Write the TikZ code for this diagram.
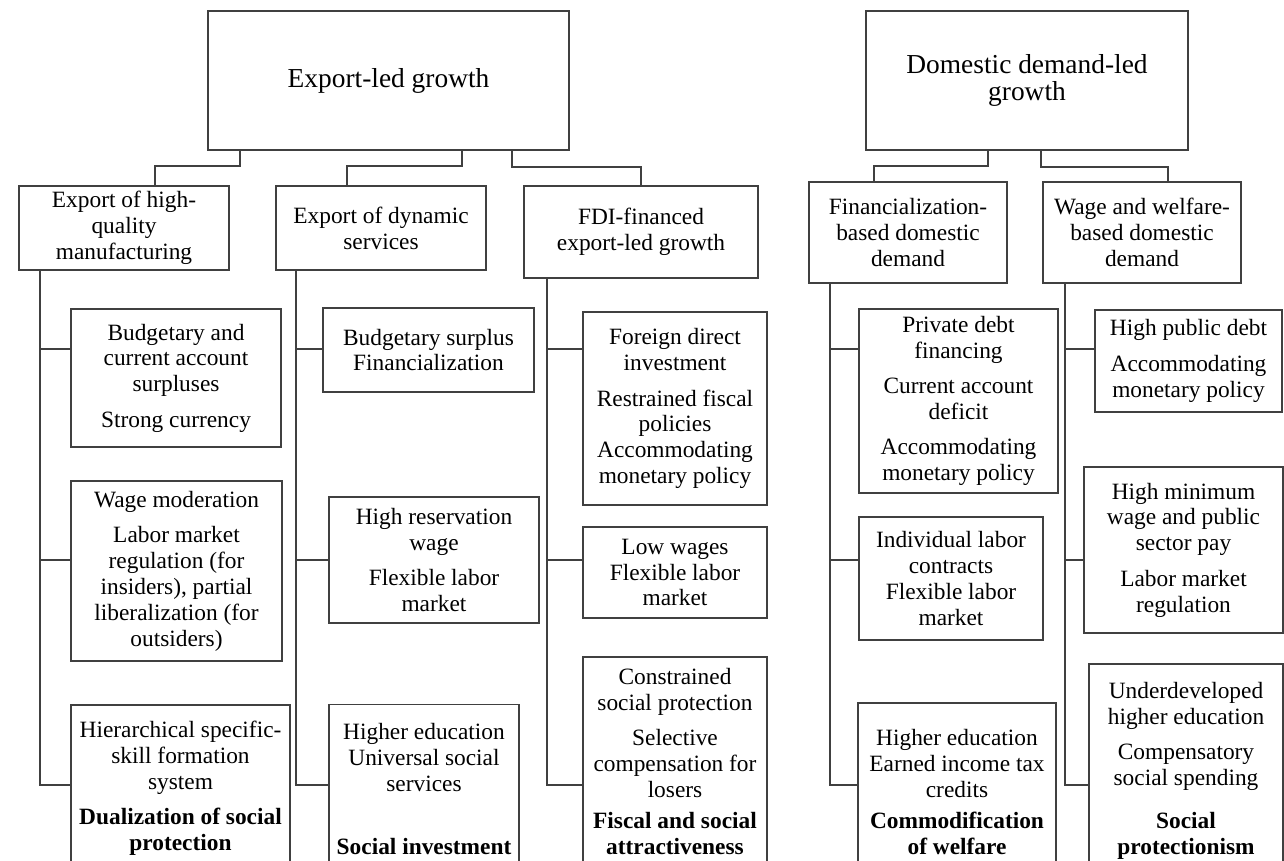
\documentclass[tikz,border=0pt]{standalone}
\usepackage{fontspec}
\setmainfont{Liberation Serif}

\begin{document}
\begin{tikzpicture}[x=0.02cm, y=-0.02cm,
  box/.style={draw=black!75, line width=0.8pt, align=center, inner sep=2pt,
    font=\fontsize{13.3}{14.7}\selectfont},
  headbox/.style={box, font=\fontsize{15.6}{15.6}\selectfont},
  link/.style={draw=black!75, line width=0.8pt}]

\useasboundingbox (0,0) rectangle (1284,861);
\clip (0,0) rectangle (1284,861);

% growth models
\node[headbox, minimum width=7.22cm, minimum height=2.78cm] (EL) at (388.5,80.5) {Export-led growth};
\node[headbox, minimum width=6.44cm, minimum height=2.78cm] (DL) at (1027,80.5) {Domestic demand-led\\growth};

% strategies
\node[box, minimum width=4.2cm, minimum height=1.68cm] (A) at (124,228) {Export of high-\\quality\\manufacturing};
\node[box, minimum width=4.2cm, minimum height=1.68cm] (B) at (381,228) {Export of dynamic\\services};
\node[box, minimum width=4.68cm, minimum height=1.84cm] (C) at (641,232) {FDI-financed\\export-led growth};
\node[box, minimum width=3.96cm, minimum height=2.02cm] (D) at (908,232.5) {Financialization-\\based domestic\\demand};
\node[box, minimum width=3.96cm, minimum height=2.02cm] (E) at (1142,232.5) {Wage and welfare-\\based domestic\\demand};

% macro policies
\node[box, minimum width=4.2cm, minimum height=2.76cm] (A1) at (176,378) {Budgetary and\\current account\\surpluses\\[5.5pt]Strong currency};
\node[box, minimum width=4.22cm, minimum height=1.68cm] (B1) at (428.5,350) {Budgetary surplus\\Financialization};
\node[box, minimum width=3.68cm, minimum height=3.86cm] (C1) at (675,408.5) {Foreign direct\\investment\\[5.5pt]Restrained fiscal\\policies\\Accommodating\\monetary policy};
\node[box, minimum width=3.98cm, minimum height=3.68cm] (D1) at (958.5,401) {Private debt\\financing\\[5.5pt]Current account\\deficit\\[5.5pt]Accommodating\\monetary policy};
\node[box, minimum width=3.74cm, minimum height=2.04cm] (E1) at (1188.5,361) {High public debt\\[5.5pt]Accommodating\\monetary policy};

% labor market
\node[box, minimum width=4.22cm, minimum height=3.6cm] (A2) at (176.5,571) {Wage moderation\\[5.5pt]Labor market\\regulation (for\\insiders), partial\\liberalization (for\\outsiders)};
\node[box, minimum width=4.2cm, minimum height=2.52cm] (B2) at (434,560) {High reservation\\wage\\[5.5pt]Flexible labor\\market};
\node[box, minimum width=3.68cm, minimum height=1.82cm] (C2) at (675,572.5) {Low wages\\Flexible labor\\market};
\node[box, minimum width=3.68cm, minimum height=2.46cm] (D2) at (951,578.5) {Individual labor\\contracts\\Flexible labor\\market};
\node[box, minimum width=3.98cm, minimum height=3.32cm] (E2) at (1183.5,550) {High minimum\\wage and public\\sector pay\\[5.5pt]Labor market\\regulation};

% welfare
\node[box, minimum width=4.38cm, minimum height=3.34cm] (A3) at (180.5,788.5) {Hierarchical specific-\\skill formation\\system\\[5.5pt]\textbf{Dualization of social}\\\textbf{protection}};
\node[box, minimum width=3.8cm, minimum height=3.38cm] (B3) at (424,789) {Higher education\\Universal social\\services\\[21pt]\textbf{Social investment}};
\node[box, minimum width=3.68cm, minimum height=4.18cm] (C3) at (675,761.5) {Constrained\\social protection\\[5.5pt]Selective\\compensation for\\losers\\[3pt]\textbf{Fiscal and social}\\\textbf{attractiveness}};
\node[box, minimum width=3.96cm, minimum height=3.56cm] (D3) at (957,792) {Higher education\\Earned income tax\\credits\\[3pt]\textbf{Commodification}\\\textbf{of welfare}};
\node[box, minimum width=3.88cm, minimum height=4.28cm] (E3) at (1186,771) {Underdeveloped\\higher education\\[5.5pt]Compensatory\\social spending\\[10pt]\textbf{Social}\\\textbf{protectionism}};

% branching points
\coordinate (jA) at (155,166);
\coordinate (jB) at (347,166);
\coordinate (jC) at (641,167);
\coordinate (jD) at (874,166);
\coordinate (jE) at (1168,167);

\draw[link] (EL.south -| 240,0) |- (jA) -- (A.north -| jA);
\draw[link] (EL.south -| 462,0) |- (jB) -- (B.north -| jB);
\draw[link] (EL.south -| 512,0) |- (jC) -- (C.north -| jC);
\draw[link] (DL.south -| 988,0) |- (jD) -- (D.north -| jD);
\draw[link] (DL.south -| 1041,0) |- (jE) -- (E.north -| jE);

% spines and levels
\coordinate (spA) at (40,0);
\coordinate (spB) at (296,0);
\coordinate (spC) at (547,0);
\coordinate (spD) at (830,0);
\coordinate (spE) at (1065,0);
\coordinate (lv1) at (0,349);
\coordinate (lv2) at (0,560);
\coordinate (lv3) at (0,785);

\foreach \s in {A,B,C,D,E}{
  \draw[link] (\s.south -| sp\s) |- (\s3.west |- lv3);
  \draw[link] (sp\s |- lv1) -- (\s1.west |- lv1);
  \draw[link] (sp\s |- lv2) -- (\s2.west |- lv2);
}

\end{tikzpicture}
\end{document}
